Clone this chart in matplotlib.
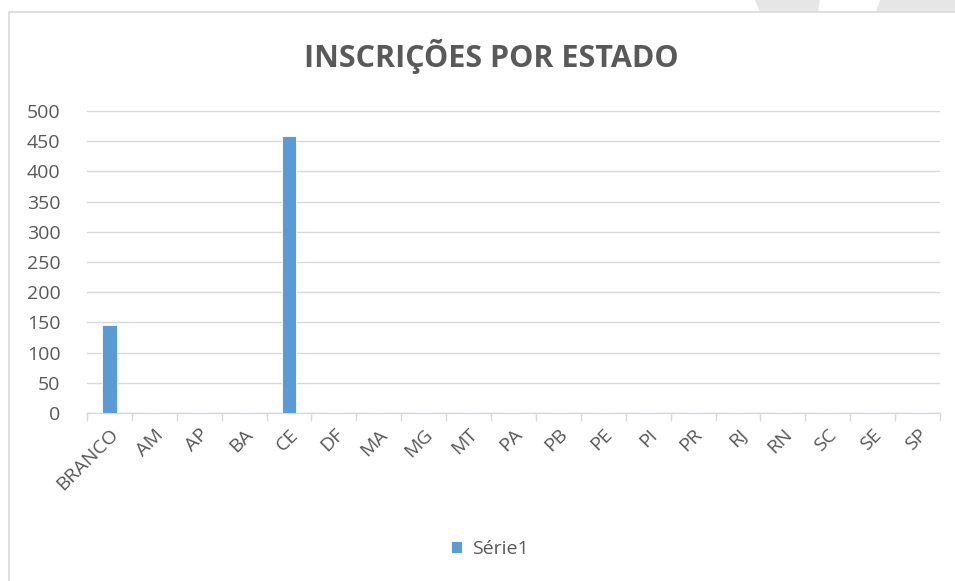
import numpy as np
import matplotlib.pyplot as plt
from matplotlib.patches import Rectangle, Polygon

# data
estados = ["BRANCO", "AM", "AP", "BA", "CE", "DF", "MA", "MG", "MT", "PA",
           "PB", "PE", "PI", "PR", "RJ", "RN", "SC", "SE", "SP"]
inscricoes = [145, 1, 1, 1, 458, 1, 1, 1, 1, 1,
              1, 1, 1, 1, 1, 2, 1, 1, 1]
serie = "Série1"

cinza = "#595959"
azul = "#5b9bd5"
plt.rcParams['font.family'] = ['Open Sans', 'DejaVu Sans']

fig = plt.figure(figsize=(9.55, 5.81), dpi=100)
W, H = 955, 581

# slide background shapes + chart border
fig.patches.append(Polygon([(755 / W, 1), (820 / W, 1), (818 / W, 1 - 12 / H), (760 / W, 1 - 12 / H)],
                           closed=True, transform=fig.transFigure, facecolor="#e6e6e6",
                           edgecolor="none", zorder=-2))
fig.patches.append(Polygon([(880 / W, 1), (955 / W, 1), (955 / W, 1 - 12 / H), (876 / W, 1 - 12 / H)],
                           closed=True, transform=fig.transFigure, facecolor="#e6e6e6",
                           edgecolor="none", zorder=-2))
fig.patches.append(Rectangle((9 / W, -0.1), 1.0, 1 - 12 / H + 0.1, transform=fig.transFigure,
                             facecolor="white", edgecolor="#d9d9d9", linewidth=1.2, zorder=-1))

ax = fig.add_axes([87 / W, 1 - 413 / H, (940 - 87) / W, (413 - 111) / H])
ax.patch.set_alpha(0)
x = np.arange(len(estados))
ax.bar(x, inscricoes, width=0.33, color=azul, edgecolor="white", linewidth=0.6,
       label=serie, zorder=3)

ax.set_xlim(-0.5, len(estados) - 0.5)
ax.set_ylim(0, 500)
ax.set_yticks(np.arange(0, 501, 50))
ax.grid(axis="y", color="#d9d9d9", linewidth=1.0, zorder=0)
for s in ["top", "right", "left"]:
    ax.spines[s].set_visible(False)
ax.spines["bottom"].set_color("#d9d9d9")
ax.spines["bottom"].set_linewidth(1.0)

ax.set_xticks(x)
ax.set_xticklabels(estados, rotation=45, ha="right", va="top", rotation_mode="anchor",
                   fontsize=14, color=cinza)
ax.set_xticks(np.arange(-0.5, len(estados)), minor=True)
ax.tick_params(axis="x", which="major", length=0, pad=9)
ax.tick_params(axis="x", which="minor", length=6, color="#d9d9d9", width=1.0)
ax.tick_params(axis="y", length=0, labelsize=14, labelcolor=cinza, pad=19)

fig.text(491 / W, 1 - 56 / H, "INSCRIÇÕES POR ESTADO", ha="center", va="center",
         fontsize=22, fontweight="bold", color=cinza)

leg = fig.legend(loc="center", bbox_to_anchor=(490 / W, 1 - 549 / H), frameon=False,
                 fontsize=14, handlelength=0.55, handleheight=0.55, handletextpad=0.5)
for t in leg.get_texts():
    t.set_color(cinza)

fig.savefig("out.png", dpi=100)
